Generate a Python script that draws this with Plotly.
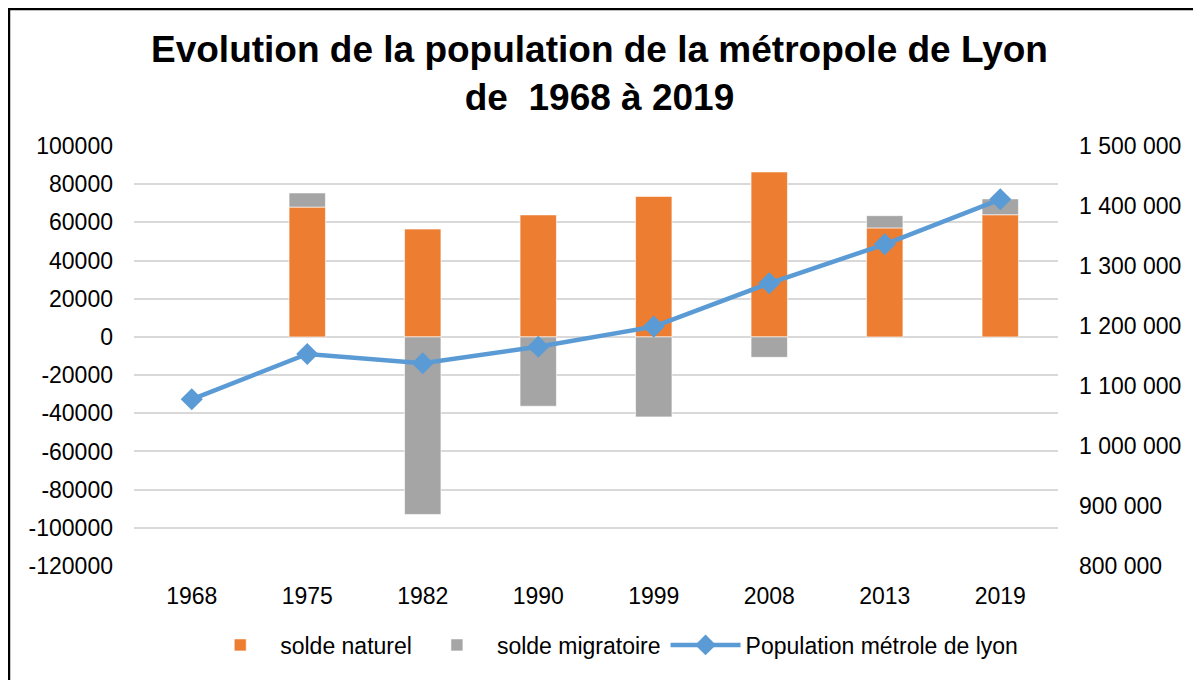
import plotly.graph_objects as go

years = ["1968", "1975", "1982", "1990", "1999", "2008", "2013", "2019"]
solde_naturel = [None, 68000, 56500, 63900, 73600, 86400, 57100, 64000]
solde_migratoire = [None, 7400, -93000, -36300, -41900, -10700, 6400, 8300]
population = [1077800, 1153300, 1137800, 1165500, 1199000, 1271200, 1336200, 1411200]

left_ticks = [100000, 80000, 60000, 40000, 20000, 0, -20000, -40000, -60000,
              -80000, -100000, -120000]
left_ticktext = ["100000", "80000", "60000", "40000", "20000", "0", "-20000",
                 "-40000", "-60000", "-80000", "-100000", "-120000"]
right_ticks = [800000, 900000, 1000000, 1100000, 1200000, 1300000, 1400000, 1500000]
right_ticktext = ["800 000", "900 000", "1 000 000", "1 100 000", "1 200 000",
                  "1 300 000", "1 400 000", "1 500 000"]

title_text = "<b>Evolution de la population de la métropole de Lyon<br>de  1968 à 2019</b>"

FONT = "Liberation Sans, Arial, sans-serif"
ORANGE = "#ED7D31"
GREY = "#A5A5A5"
BLUE = "#5B9BD5"
TICK = 23

fig = go.Figure()
fig.add_trace(go.Bar(
    x=years, y=solde_naturel, name="solde naturel",
    marker=dict(color=ORANGE, line=dict(color="rgba(255,255,255,0.6)", width=1)),
    yaxis="y",
))
fig.add_trace(go.Bar(
    x=years, y=solde_migratoire, name="solde migratoire",
    marker=dict(color=GREY, line=dict(color="rgba(255,255,255,0.6)", width=1)),
    yaxis="y",
))
fig.add_trace(go.Scatter(
    x=years, y=population, name="Population métrole de lyon",
    mode="lines+markers",
    line=dict(color=BLUE, width=4.5),
    marker=dict(symbol="diamond", size=17, color=BLUE),
    yaxis="y2",
))

fig.update_layout(
    width=1201, height=680,
    paper_bgcolor="white", plot_bgcolor="white",
    barmode="relative", bargap=0.685,
    margin=dict(l=126, r=151, t=138, b=122),
    font=dict(family=FONT, size=TICK, color="#000000"),
    xaxis=dict(
        type="category", range=[-0.5, 7.5], showgrid=False, showline=False,
        ticks="", ticklabelstandoff=14, tickfont=dict(size=TICK),
    ),
    yaxis=dict(
        range=[-120000, 100000], tickvals=left_ticks, ticktext=left_ticktext,
        showgrid=True, gridcolor="#D9D9D9", gridwidth=1.5, zeroline=False,
        showline=False, ticks="", ticklabelstandoff=20, tickfont=dict(size=TICK),
    ),
    yaxis2=dict(
        range=[800000, 1500000], tickvals=right_ticks, ticktext=right_ticktext,
        overlaying="y", side="right", showgrid=False, zeroline=False,
        showline=False, ticks="", ticklabelstandoff=20, tickfont=dict(size=TICK),
    ),
    legend=dict(
        orientation="h", x=0.517, xanchor="center", y=-0.188, yanchor="middle",
        font=dict(size=TICK), itemwidth=70, traceorder="normal",
    ),
    annotations=[dict(
        text=title_text, xref="paper", yref="paper",
        x=0.5043, y=1.173, xanchor="center", yanchor="middle",
        showarrow=False, font=dict(family=FONT, size=37, color="#000000"),
    )],
    shapes=[dict(
        type="rect", xref="paper", yref="paper",
        x0=-0.1353, x1=1.2, y0=-0.35, y1=1.3262,
        line=dict(color="black", width=2.5), fillcolor="rgba(0,0,0,0)",
        layer="below",
    )],
)

fig.write_html("out.html")
